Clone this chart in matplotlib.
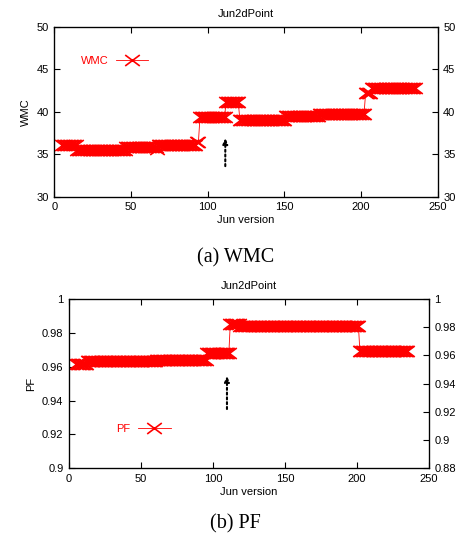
import matplotlib
matplotlib.use("Agg")
import matplotlib.pyplot as plt
import numpy as np
from matplotlib.path import Path

# ---------------------------------------------------------------------------
# Daten – Stufen: (erste Version, letzte Version, Wert)
# ---------------------------------------------------------------------------
wmc_first = [5, 15, 47, 67, 68, 93, 95, 112, 121, 151, 173, 203, 207]
wmc_last = [14, 46, 66, 67, 92, 94, 111, 120, 150, 172, 202, 206, 235]
wmc_value = [36.1, 35.5, 35.8, 35.6, 36.1, 36.5, 39.4, 41.1, 39.05, 39.5, 39.8, 42.2, 42.8]

pf_first = [5, 13, 61, 96, 112, 119, 202]
pf_last = [12, 60, 95, 111, 118, 201, 235]
pf_value = [0.9613, 0.9632, 0.9637, 0.9680, 0.9853, 0.9840, 0.9690]

wmc_arrow = (111.5, 33.6, 36.9)   # x, y_start, y_end
pf_arrow = (109.7, 0.935, 0.9545)

x_ticks = [0, 50, 100, 150, 200, 250]
wmc_ticks = [30, 35, 40, 45, 50]
pf_ticks = [0.9, 0.92, 0.94, 0.96, 0.98, 1.0]
pf_ticks_right = [0.88, 0.9, 0.92, 0.94, 0.96, 0.98, 1.0]


def expand(first, last, value):
    xs, ys = [], []
    for a, b, v in zip(first, last, value):
        for x in range(a, b + 1):
            xs.append(x)
            ys.append(v)
    return np.array(xs), np.array(ys)


def fmt(v):
    return f"{v:g}"


# gnuplot-artiges "x" (breiter als hoch)
CROSS = Path([(-1, -0.75), (1, 0.75), (-1, 0.75), (1, -0.75)],
             [Path.MOVETO, Path.LINETO, Path.MOVETO, Path.LINETO])

plt.rcParams["font.family"] = ["Liberation Sans", "DejaVu Sans"]
plt.rcParams["font.size"] = 8

fig = plt.figure(figsize=(4.63, 5.43), dpi=100)


def panel(rect, xs, ys, label, yticks, yticks_r, ylim, ylim_r, arrow, leg_pos, caption, cap_y):
    ax = fig.add_axes(rect)
    ax.plot(xs, ys, color="red", lw=0.6, marker=CROSS, ms=10.5, mew=1.2, label=label)
    ax.set_xlim(0, 250)
    ax.set_ylim(*ylim)
    ax.set_xticks(x_ticks)
    ax.set_yticks(yticks)
    ax.set_yticklabels([fmt(t) for t in yticks])
    ax.tick_params(direction="in", length=4, width=0.8, top=True, right=False, pad=4)
    ax.set_xlabel("Jun version", labelpad=2)
    ax.set_ylabel(label, labelpad=4)
    ax.set_title("Jun2dPoint", fontsize=8, pad=7)
    for s in ax.spines.values():
        s.set_linewidth(0.9)

    ax2 = ax.twinx()
    ax2.set_ylim(*ylim_r)
    ax2.set_yticks(yticks_r)
    ax2.set_yticklabels([fmt(t) for t in yticks_r])
    ax2.tick_params(direction="in", length=4, width=0.8, pad=4)

    ax_x, y0, y1 = arrow
    ax.annotate("", xy=(ax_x, y1), xytext=(ax_x, y0),
                arrowprops=dict(arrowstyle="-|>,head_length=0.4,head_width=0.18",
                                linestyle=(0, (1, 1.3)), lw=1.5, color="black",
                                shrinkA=0, shrinkB=0))

    ax.legend(loc="center", bbox_to_anchor=leg_pos, frameon=False, markerfirst=False,
              handlelength=2.9, handletextpad=0.7, numpoints=1, labelcolor="red",
              fontsize=8, borderpad=0)

    fig.text(0.508, cap_y, caption, family="Liberation Serif", fontsize=14.5,
             ha="center", va="center")
    return ax


wx, wy = expand(wmc_first, wmc_last, wmc_value)
px, py = expand(pf_first, pf_last, pf_value)

panel([0.1173, 0.6378, 0.828, 0.3125], wx, wy, "WMC", wmc_ticks, wmc_ticks,
      (30, 50), (30, 50), wmc_arrow, (0.157, 0.80), "(a) WMC", 0.525)
panel([0.149, 0.1376, 0.7776, 0.3118], px, py, "PF", pf_ticks, pf_ticks_right,
      (0.9, 1.0), (0.88, 1.0), pf_arrow, (0.207, 0.232), "(b) PF", 0.036)

fig.savefig("out.png", dpi=100)
